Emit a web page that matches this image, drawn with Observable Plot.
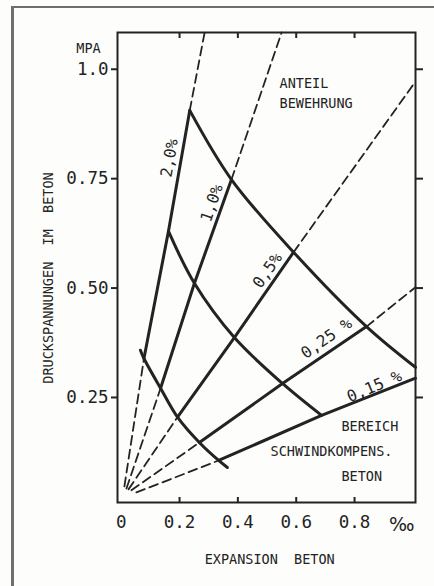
<!DOCTYPE html>
<html><head><meta charset="utf-8">
<script src="https://cdn.jsdelivr.net/npm/d3@7"></script>
<script src="https://cdn.jsdelivr.net/npm/@observablehq/plot@0.6"></script>
<style>
html,body{margin:0;padding:0;background:#fdfdfb;overflow:hidden;width:434px;height:586px;}
#border{position:absolute;left:11px;top:6px;width:600px;height:800px;border-left:3px solid #6f6e68;border-top:2px solid #6f6e68;}
#chart{position:absolute;left:0;top:0;}
</style></head><body>
<div id="border"></div><div id="chart"></div>
<script>
// Axis ticks
const xTicks = [0, 0.2, 0.4, 0.6, 0.8];
const xTickLabels = ["0", "0.2", "0.4", "0.6", "0.8"];
const xTickMarks = [0.2, 0.4, 0.6, 0.8];
const yTicks = [1.0, 0.75, 0.5, 0.25];
const yTickLabels = ["1.0", "0.75", "0.50", "0.25"];

// Reinforcement ratio lines: expansion (‰) and stress (MPa)
// points: start near origin, lower curve, middle curve, upper curve, end
const exp20 = [0.011, 0.078, 0.162, 0.235, 0.286];
const str20 = [0.047, 0.339, 0.630, 0.906, 1.084];
const exp10 = [0.018, 0.135, 0.251, 0.378, 0.550];
const str10 = [0.042, 0.271, 0.511, 0.748, 1.084];
const exp05 = [0.025, 0.193, 0.388, 0.591, 1.009];
const str05 = [0.040, 0.205, 0.387, 0.582, 0.972];
const exp025 = [0.035, 0.268, 0.553, 0.841, 1.009];
const str025 = [0.038, 0.147, 0.282, 0.412, 0.502];
const exp015 = [0.052, 0.334, 0.687, 1.009];
const str015 = [0.033, 0.106, 0.209, 0.294];

// Cross curves
const expLow = [0.066, 0.078, 0.135, 0.193, 0.268, 0.334, 0.364];
const strLow = [0.358, 0.339, 0.271, 0.205, 0.147, 0.106, 0.090];
const expMid = [0.162, 0.251, 0.388, 0.553, 0.687];
const strMid = [0.630, 0.511, 0.387, 0.282, 0.209];
const expTop = [0.235, 0.378, 0.591, 0.841, 1.009];
const strTop = [0.906, 0.748, 0.582, 0.412, 0.319];

// Ratio labels
const pctLabels = ["2,0%", "1,0%", "0,5%", "0,25 %", "0,15 %"];
const pctX = [0.166, 0.311, 0.502, 0.704, 0.868];
const pctY = [0.797, 0.694, 0.540, 0.385, 0.275];
const pctAngle = [-80, -71, -55, -35, -23];

const series = [
  {x: exp20, y: str20, solidFrom: 1, solidTo: 3},
  {x: exp10, y: str10, solidFrom: 1, solidTo: 3},
  {x: exp05, y: str05, solidFrom: 1, solidTo: 3},
  {x: exp025, y: str025, solidFrom: 1, solidTo: 3},
  {x: exp015, y: str015, solidFrom: 1, solidTo: 3}
];
const pts = (xs, ys, a, b) => d3.range(a, b + 1).map(i => ({x: xs[i], y: ys[i]}));

const ink = "#232323";
const dash = {x: "x", y: "y", stroke: ink, strokeWidth: 1.8, strokeDasharray: "9,5"};
const solid = {x: "x", y: "y", stroke: ink, strokeWidth: 3, strokeLinejoin: "round"};

const marks = [];
for (const s of series) {
  const n = s.x.length - 1;
  marks.push(Plot.line(pts(s.x, s.y, 0, s.solidFrom), dash));
  marks.push(Plot.line(pts(s.x, s.y, s.solidFrom, s.solidTo), solid));
  if (s.solidTo < n) marks.push(Plot.line(pts(s.x, s.y, s.solidTo, n), dash));
}
marks.push(Plot.line(pts(expLow, strLow, 0, expLow.length - 1), {...solid, curve: "catmull-rom"}));
marks.push(Plot.line(pts(expMid, strMid, 0, expMid.length - 1), {...solid, curve: "catmull-rom"}));
marks.push(Plot.line(pts(expTop, strTop, 0, expTop.length - 1), {...solid, curve: "catmull-rom"}));

const pctData = pctLabels.map((t, i) => ({t, x: pctX[i], y: pctY[i], a: pctAngle[i]}));
for (const d of pctData) {
  marks.push(Plot.text([d], {x: "x", y: "y", text: "t", rotate: d.a, fontSize: 16, fill: ink, textAnchor: "middle", lineAnchor: "middle", style: "letter-spacing:0.6px"}));
}

const notesStart = [
  {t: "ANTEIL", x: 0.543, y: 0.966},
  {t: "BEWEHRUNG", x: 0.543, y: 0.922},
  {t: "BEREICH", x: 0.755, y: 0.184},
  {t: "SCHWINDKOMPENS.", x: 0.512, y: 0.127},
  {t: "BETON", x: 0.755, y: 0.070}
];
const notesMiddle = [
  {t: "EXPANSION  BETON", x: 0.509, y: -0.121},
  {t: "MPA", x: -0.112, y: 1.048}
];
const noteStyle = {x: "x", y: "y", text: "t", fontSize: 13.5, fill: ink, lineAnchor: "middle", style: "letter-spacing:1.4px"};
marks.push(Plot.text(notesStart, {...noteStyle, textAnchor: "start"}));
marks.push(Plot.text(notesMiddle, {...noteStyle, textAnchor: "middle"}));
marks.push(Plot.text(["DRUCKSPANNUNGEN  IM  BETON"], {x: -0.249, y: 0.523, text: d => d, rotate: -90, fontSize: 13.5, fill: ink, lineAnchor: "middle", textAnchor: "middle", style: "letter-spacing:1.6px"}));
marks.push(Plot.text(["‰"], {x: 0.962, y: -0.041, text: d => d, fontSize: 19, fill: ink, lineAnchor: "middle", textAnchor: "middle", fontFamily: "DejaVu Sans"}));

const chart = Plot.plot({
  width: 434,
  height: 586,
  marginLeft: 117,
  marginRight: 19,
  marginTop: 32,
  marginBottom: 84,
  style: {fontFamily: "DejaVu Sans Mono", background: "transparent", color: ink},
  x: {domain: [-0.0127, 1.009]},
  y: {domain: [0.010, 1.084]},
  marks: [
    Plot.frame({stroke: ink, strokeWidth: 2}),
    Plot.axisY({anchor: "left", ticks: yTicks, tickSize: 6, tickFormat: () => "", label: null, strokeWidth: 2}),
    Plot.axisY({anchor: "left", ticks: yTicks, tickSize: 0, tickPadding: 9, tickFormat: d => yTickLabels[yTicks.indexOf(d)], fontSize: 17.5, label: null}),
    Plot.axisY({anchor: "right", ticks: yTicks, tickSize: 7, tickFormat: () => "", label: null, strokeWidth: 2}),
    Plot.axisX({anchor: "bottom", ticks: xTicks, tickSize: 0, tickPadding: 13, tickFormat: d => xTickLabels[xTicks.indexOf(d)], fontSize: 17.5, label: null}),
    Plot.axisX({anchor: "bottom", ticks: xTickMarks, tickSize: -5, tickFormat: () => "", label: null, strokeWidth: 2}),
    Plot.axisX({anchor: "top", ticks: xTickMarks, tickSize: -5, tickFormat: () => "", label: null, strokeWidth: 2}),
    ...marks
  ]
});
document.getElementById("chart").appendChild(chart);
</script>
</body></html>
